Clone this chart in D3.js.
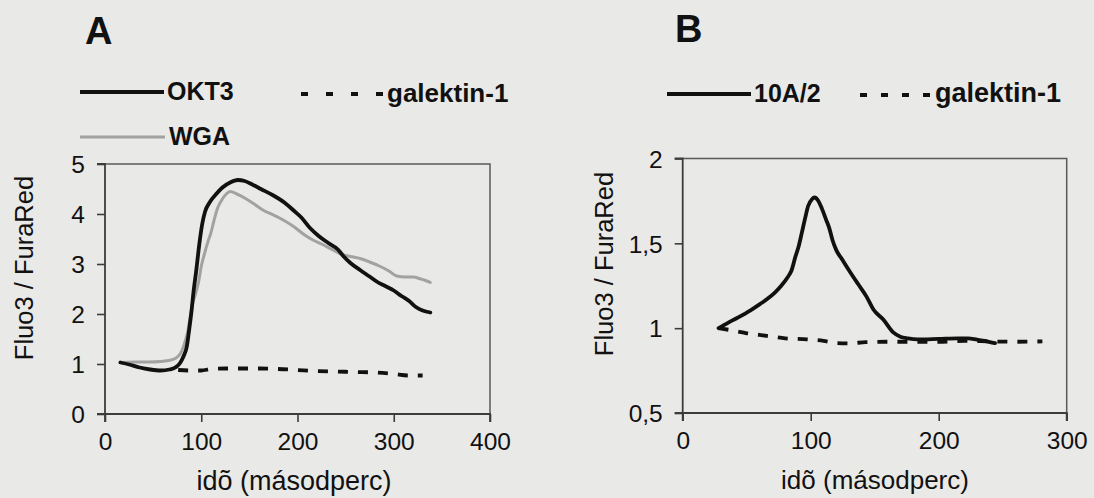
<!DOCTYPE html>
<html>
<head>
<meta charset="utf-8">
<script src="https://cdn.jsdelivr.net/npm/d3@7"></script>
<style>
  html, body { margin: 0; padding: 0; background: #e9e9e7; }
  svg { display: block; }
  text { font-family: "Liberation Sans", Arial, sans-serif; fill: #111; }
</style>
</head>
<body>
<svg id="chart" width="1094" height="498"></svg>
<script>
// ---------------- DATA ----------------
// Panel A: time (s), Fluo3/FuraRed
const okt3A = [[16,1.03],[25,0.99],[36,0.93],[47,0.89],[58,0.87],[67,0.89],[73,0.93],[78,1.02],[81.5,1.15],[85,1.35],[87,1.62],[90,2.08],[92,2.45],[95,2.9],[98,3.4],[101,3.8],[104,4.05],[109,4.24],[116,4.41],[122,4.53],[130,4.63],[138,4.68],[145,4.66],[153,4.59],[162,4.5],[175,4.37],[187,4.22],[196,4.07],[204,3.93],[213,3.72],[222,3.56],[232,3.42],[242,3.29],[248,3.15],[255,3.02],[265,2.88],[274,2.76],[283,2.64],[292,2.55],[300,2.47],[308,2.36],[316,2.26],[323,2.14],[330,2.07],[338,2.03]];
const wgaA = [[16,1.03],[30,1.04],[45,1.04],[58,1.05],[66,1.07],[73,1.11],[78,1.2],[81,1.32],[84,1.5],[86,1.65],[88,1.88],[91,2.2],[94,2.4],[97,2.62],[100,2.95],[103,3.18],[107,3.45],[110,3.62],[113,3.85],[117,4.12],[121,4.27],[126,4.4],[130,4.45],[137,4.4],[146,4.31],[155,4.2],[164,4.08],[175,3.98],[186,3.87],[196,3.75],[206,3.6],[216,3.48],[225,3.4],[235,3.3],[245,3.2],[255,3.15],[265,3.11],[275,3.04],[285,2.96],[295,2.86],[303,2.76],[312,2.74],[320,2.74],[328,2.7],[333,2.67],[338,2.63]];
const galA = [[76,0.88],[88,0.87],[100,0.87],[110,0.9],[125,0.91],[140,0.91],[160,0.91],[180,0.9],[200,0.88],[220,0.86],[240,0.85],[260,0.84],[280,0.83],[300,0.8],[315,0.77],[330,0.77]];

// Panel B
const a10B = [[28,1.0],[35,1.03],[42.5,1.06],[53,1.105],[60,1.14],[66.5,1.175],[72,1.21],[77,1.25],[82,1.3],[85,1.34],[88,1.42],[90.5,1.48],[93,1.56],[95.7,1.65],[98,1.72],[101,1.76],[103,1.77],[106,1.75],[109,1.7],[112,1.64],[114.5,1.59],[117,1.52],[120,1.46],[125,1.4],[130,1.34],[137,1.26],[143.6,1.186],[149,1.11],[157,1.048],[164.5,0.975],[170,0.95],[176,0.94],[183.5,0.934],[200,0.937],[215,0.94],[223,0.94],[230,0.932],[236,0.925],[240,0.918],[244,0.912]];
const galB = [[28,1.0],[40,0.985],[50,0.97],[60,0.96],[70,0.95],[80,0.94],[97,0.934],[110,0.925],[120,0.912],[130,0.91],[143,0.918],[160,0.92],[180,0.92],[200,0.92],[220,0.925],[240,0.922],[260,0.92],[281,0.922]];

// Ticks / labels
const xTicksA = [0,100,200,300,400];
const yTicksA = [0,1,2,3,4,5];
const xTicksB = [0,100,200,300];
const yTicksB = [0.5,1,1.5,2];
const yTickLabelsB = ["0,5","1","1,5","2"];
const xTitle = "idõ (másodperc)";
const yTitle = "Fluo3 / FuraRed";
const legendA = ["OKT3","galektin-1","WGA"];
const legendB = ["10A/2","galektin-1"];
const panelLabels = ["A","B"];

// ---------------- DRAW ----------------
const svg = d3.select("#chart");

const AX = "#3c3c3c";
const FRAME = "#5a5a5a";

function panel(opts) {
  const x = d3.scaleLinear().domain(opts.xDomain).range(opts.xRange);
  const y = d3.scaleLinear().domain(opts.yDomain).range(opts.yRange);
  const g = svg.append("g");

  // frame (top + right)
  g.append("path")
    .attr("d", `M${x.range()[0]},${y.range()[1]}H${x.range()[1]}V${y.range()[0]}`)
    .attr("fill", "none").attr("stroke", FRAME).attr("stroke-width", 1.5);

  const xAxis = d3.axisBottom(x).tickValues(opts.xTicks).tickSize(8).tickPadding(11).tickFormat(d3.format("d"));
  const gx = g.append("g").attr("transform", `translate(0,${y.range()[0]})`).call(xAxis);
  const yAxis = d3.axisLeft(y).tickValues(opts.yTicks).tickSize(8).tickPadding(12)
    .tickFormat((d, i) => opts.yLabels ? opts.yLabels[i] : d);
  const gy = g.append("g").attr("transform", `translate(${x.range()[0]},0)`).call(yAxis);

  [gx, gy].forEach(a => {
    a.select(".domain").attr("stroke", AX).attr("stroke-width", 1.8);
    a.selectAll(".tick line").attr("stroke", AX).attr("stroke-width", 1.6);
    a.selectAll(".tick text").style("font-size", "24.5px").attr("fill", "#111")
      .style("font-family", '"Liberation Sans", Arial, sans-serif');
  });
  gx.select(".domain").attr("d", `M${x.range()[0]},8V0H${x.range()[1]}V8`);
  gy.select(".domain").attr("d", `M-8,${y.range()[0]}H0V${y.range()[1]}H-8`);
  gy.selectAll(".tick text").attr("dy", "0.36em");

  const line = d3.line().x(d => x(d[0])).y(d => y(d[1])).curve(d3.curveMonotoneX);
  opts.series.forEach(s => {
    g.append("path").datum(s.data)
      .attr("d", line)
      .attr("fill", "none")
      .attr("stroke", s.color)
      .attr("stroke-width", s.width)
      .attr("stroke-linecap", s.dash ? "butt" : "round")
      .attr("stroke-linejoin", "round")
      .attr("stroke-dasharray", s.dash || null);
  });

  // axis titles
  g.append("text").attr("x", opts.xTitlePos[0]).attr("y", opts.xTitlePos[1])
    .attr("text-anchor", "middle").style("font-size", opts.xTitleSize + "px").text(xTitle);
  g.append("text")
    .attr("transform", `translate(${opts.yTitlePos[0]},${opts.yTitlePos[1]}) rotate(-90)`)
    .attr("text-anchor", "middle").style("font-size", "25.5px").text(yTitle);

  // panel letter
  g.append("text").attr("x", opts.letterPos[0]).attr("y", opts.letterPos[1])
    .style("font-size", "38px").style("font-weight", "bold").text(opts.letter);

  // legend
  opts.legend.forEach(l => {
    g.append("line").attr("x1", l.x1).attr("x2", l.x2).attr("y1", l.y).attr("y2", l.y)
      .attr("stroke", l.color).attr("stroke-width", l.width)
      .attr("stroke-dasharray", l.dash || null);
    g.append("text").attr("x", l.tx).attr("y", l.ty)
      .style("font-size", (l.size || 25) + "px").style("font-weight", "bold").text(l.label);
  });
}

panel({
  xDomain: [0, 400], xRange: [105, 490],
  yDomain: [0, 5], yRange: [414, 164],
  xTicks: xTicksA, yTicks: yTicksA,
  series: [
    { data: galA, color: "#111", width: 3.8, dash: "10,10" },
    { data: wgaA, color: "#a2a2a2", width: 3 },
    { data: okt3A, color: "#111", width: 3.8 }
  ],
  xTitlePos: [294, 490], xTitleSize: 27, yTitlePos: [33, 268],
  letterPos: [85, 44], letter: panelLabels[0],
  legend: [
    { x1: 80, x2: 164, y: 92, color: "#111", width: 3.8, tx: 167, ty: 100, label: legendA[0] },
    { x1: 301, x2: 385, y: 94, color: "#111", width: 3.8, dash: "7,18", tx: 387, ty: 102, label: legendA[1], size: 26 },
    { x1: 80, x2: 165, y: 137, color: "#a2a2a2", width: 3, tx: 169, ty: 145, label: legendA[2] }
  ]
});

panel({
  xDomain: [0, 300], xRange: [682.7, 1066.7],
  yDomain: [0.5, 2], yRange: [413, 158.5],
  xTicks: xTicksB, yTicks: yTicksB, yLabels: yTickLabelsB,
  series: [
    { data: galB, color: "#111", width: 3.8, dash: "10,10" },
    { data: a10B, color: "#111", width: 3.8 }
  ],
  xTitlePos: [875, 489], xTitleSize: 26, yTitlePos: [613, 264],
  letterPos: [675, 42], letter: panelLabels[1],
  legend: [
    { x1: 667, x2: 751, y: 94, color: "#111", width: 3.8, tx: 754, ty: 102, label: legendB[0] },
    { x1: 860, x2: 930, y: 95, color: "#111", width: 3.8, dash: "7,14", tx: 935, ty: 102, label: legendB[1], size: 27 }
  ]
});
</script>
</body>
</html>
